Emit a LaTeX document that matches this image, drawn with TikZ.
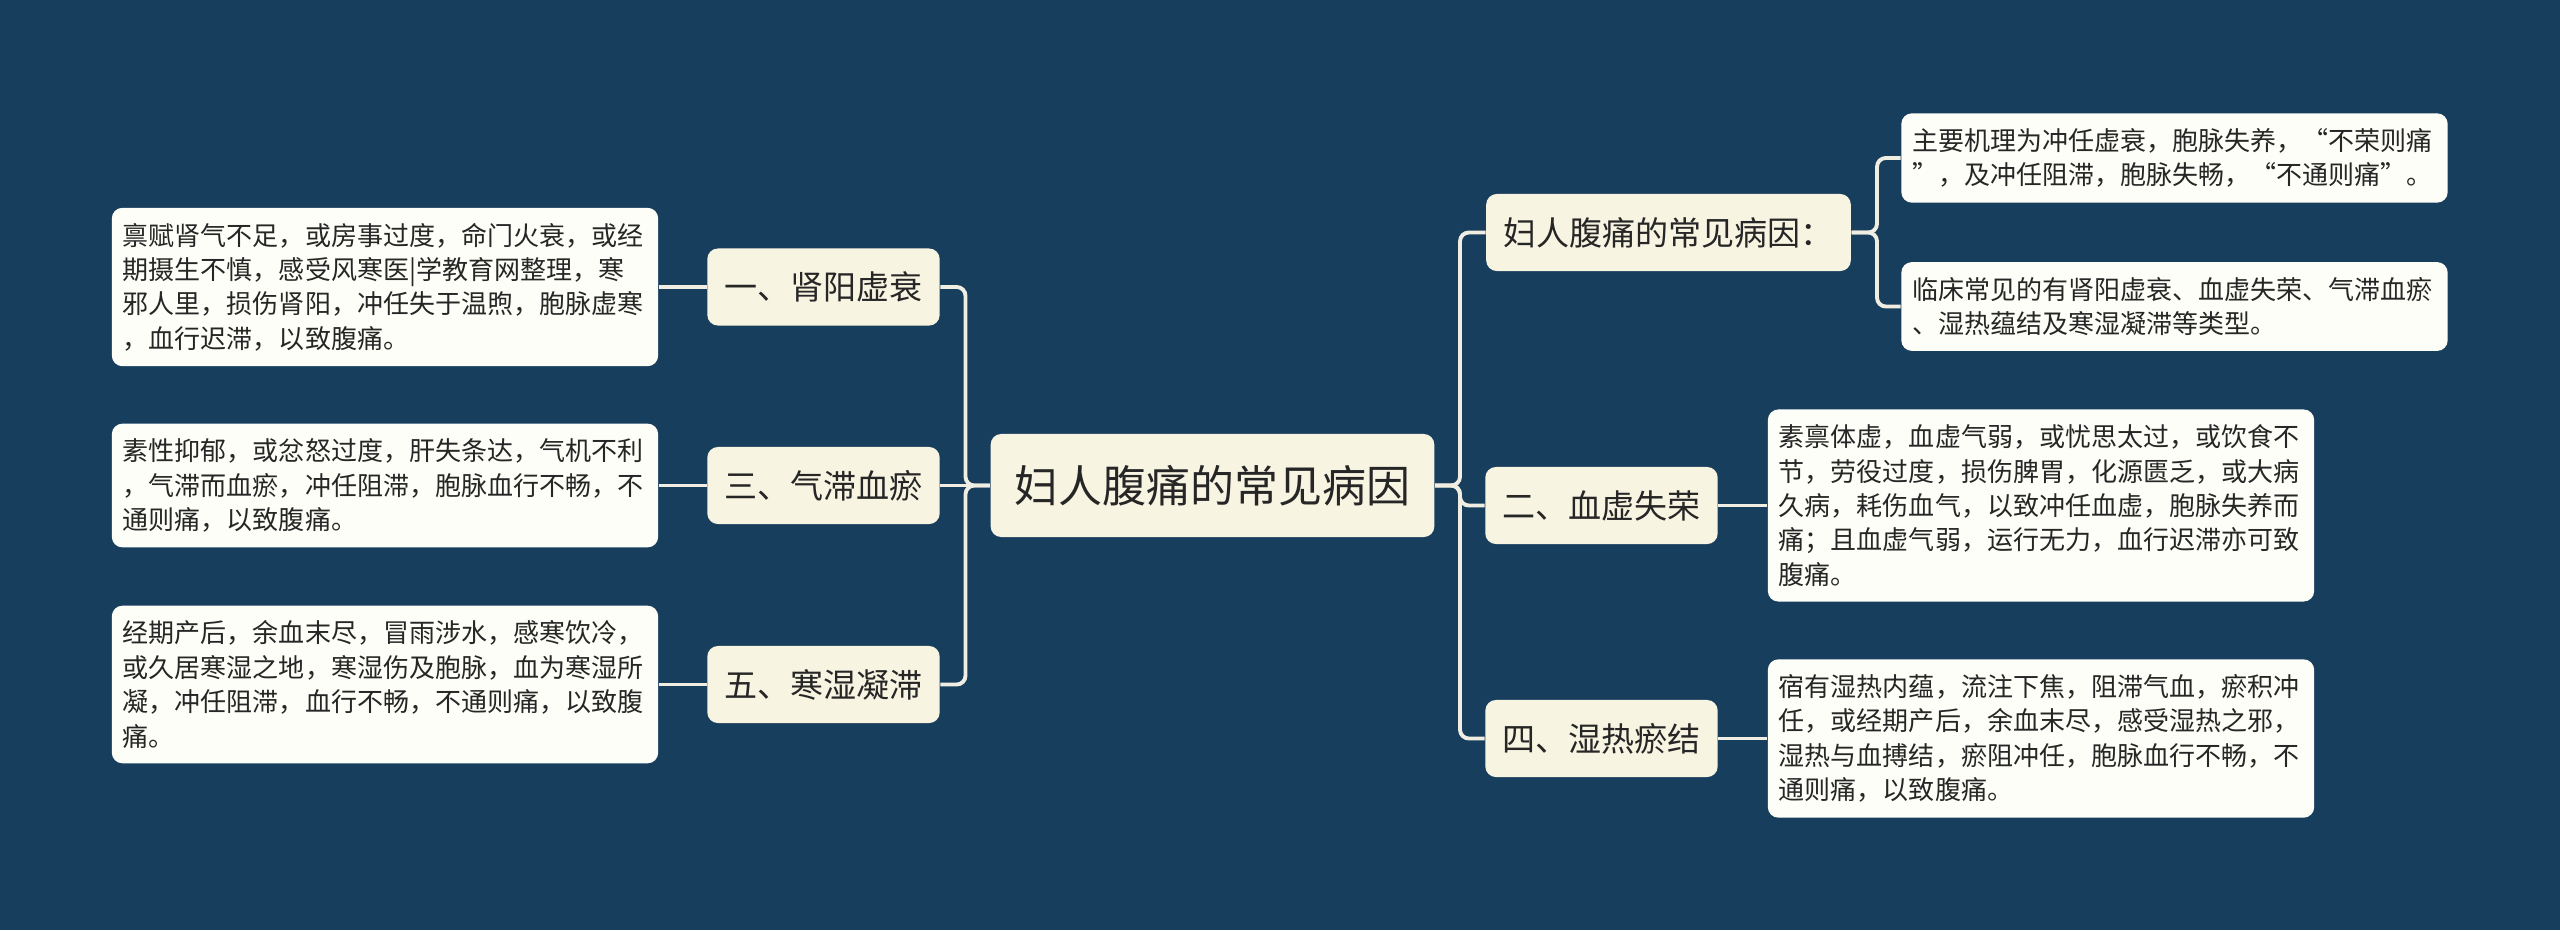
\documentclass[tikz,border=0pt]{standalone}
\usepackage{fontspec}
\setmainfont{Noto Sans CJK SC}
\usepackage{xcolor}
\usetikzlibrary{positioning}
\definecolor{bgblue}{RGB}{24,62,94}
\definecolor{branchfill}{RGB}{248,244,226}
\definecolor{leaffill}{RGB}{254,254,248}
\definecolor{linkcol}{RGB}{240,238,226}
\definecolor{inkgray}{RGB}{38,38,38}

\tikzset{
  rootbox/.style={fill=branchfill, rounded corners=3pt, text=inkgray, font=\fontsize{12.5}{15}\selectfont, inner xsep=0.24cm, minimum height=1.03cm},
  branchbox/.style={fill=branchfill, rounded corners=3pt, text=inkgray, font=\fontsize{9.4}{11}\selectfont, inner xsep=0.17cm, minimum height=0.77cm},
  leafbox/.style={fill=leaffill, rounded corners=3pt, text=inkgray, font=\fontsize{7.4}{9.8}\selectfont, align=left, text width=5.24cm, inner xsep=0.11cm, inner ysep=0.15cm},
  link/.style={draw=linkcol, line width=1.1pt, rounded corners=2.5pt}
}

\begin{document}
\begin{tikzpicture}[x=0.01cm, y=-0.01cm]
    \fill[bgblue] (0,0) rectangle (2560,930);
    \useasboundingbox (0,0) rectangle (2560,930);

    \node[rootbox] (root) at (1212.5,485.5) {妇人腹痛的常见病因};

    \node[branchbox] (b1) at (823.5,287) {一、肾阳虚衰};
    \node[branchbox] (b3) at (823.5,485.5) {三、气滞血瘀};
    \node[branchbox] (b5) at (823.5,684.5) {五、寒湿凝滞};

    \node[branchbox] (r0) at (1668.5,232.5) {妇人腹痛的常见病因：};
    \node[branchbox] (r2) at (1601.5,505.5) {二、血虚失荣};
    \node[branchbox] (r4) at (1601.5,738.5) {四、湿热瘀结};

    \node[leafbox] (l1) at (385,287) {禀赋肾气不足，或房事过度，命门火衰，或经\\期摄生不慎，感受风寒医|学教育网整理，寒\\邪人里，损伤肾阳，冲任失于温煦，胞脉虚寒\\，血行迟滞，以致腹痛。};
    \node[leafbox] (l3) at (385,485.5) {素性抑郁，或忿怒过度，肝失条达，气机不利\\，气滞而血瘀，冲任阻滞，胞脉血行不畅，不\\通则痛，以致腹痛。};
    \node[leafbox] (l5) at (385,684.5) {经期产后，余血末尽，冒雨涉水，感寒饮冷，\\或久居寒湿之地，寒湿伤及胞脉，血为寒湿所\\凝，冲任阻滞，血行不畅，不通则痛，以致腹\\痛。};

    \node[leafbox] (t1) at (2174.5,158) {主要机理为冲任虚衰，胞脉失养，“不荣则痛\\”，及冲任阻滞，胞脉失畅，“不通则痛”。};
    \node[leafbox] (t2) at (2174.5,306.5) {临床常见的有肾阳虚衰、血虚失荣、气滞血瘀\\、湿热蕴结及寒湿凝滞等类型。};
    \node[leafbox] (l2) at (2041,505.5) {素禀体虚，血虚气弱，或忧思太过，或饮食不\\节，劳役过度，损伤脾胃，化源匮乏，或大病\\久病，耗伤血气，以致冲任血虚，胞脉失养而\\痛；且血虚气弱，运行无力，血行迟滞亦可致\\腹痛。};
    \node[leafbox] (l4) at (2041,738.5) {宿有湿热内蕴，流注下焦，阻滞气血，瘀积冲\\任，或经期产后，余血末尽，感受湿热之邪，\\湿热与血搏结，瘀阻冲任，胞脉血行不畅，不\\通则痛，以致腹痛。};

    \coordinate (ltrunk) at (965.5,485.5);
    \coordinate (rtrunk) at (1460,485.5);
    \coordinate (ttrunk) at (1877,232.5);

    \draw[link] (root.west) -- (ltrunk) |- (b1.east);
    \draw[link] (root.west) -- (b3.east);
    \draw[link] (root.west) -- (ltrunk) |- (b5.east);
    \draw[link] (root.east) -- (rtrunk) |- (r0.west);
    \draw[link] (root.east) -- (rtrunk) |- (r2.west);
    \draw[link] (root.east) -- (rtrunk) |- (r4.west);
    \draw[link] (r0.east) -- (ttrunk) |- (t1.west);
    \draw[link] (r0.east) -- (ttrunk) |- (t2.west);

    \draw[link] (b1.west) -- (l1.east);
    \draw[link] (b3.west) -- (l3.east);
    \draw[link] (b5.west) -- (l5.east);
    \draw[link] (r2.east) -- (l2.west);
    \draw[link] (r4.east) -- (l4.west);
\end{tikzpicture}
\end{document}
